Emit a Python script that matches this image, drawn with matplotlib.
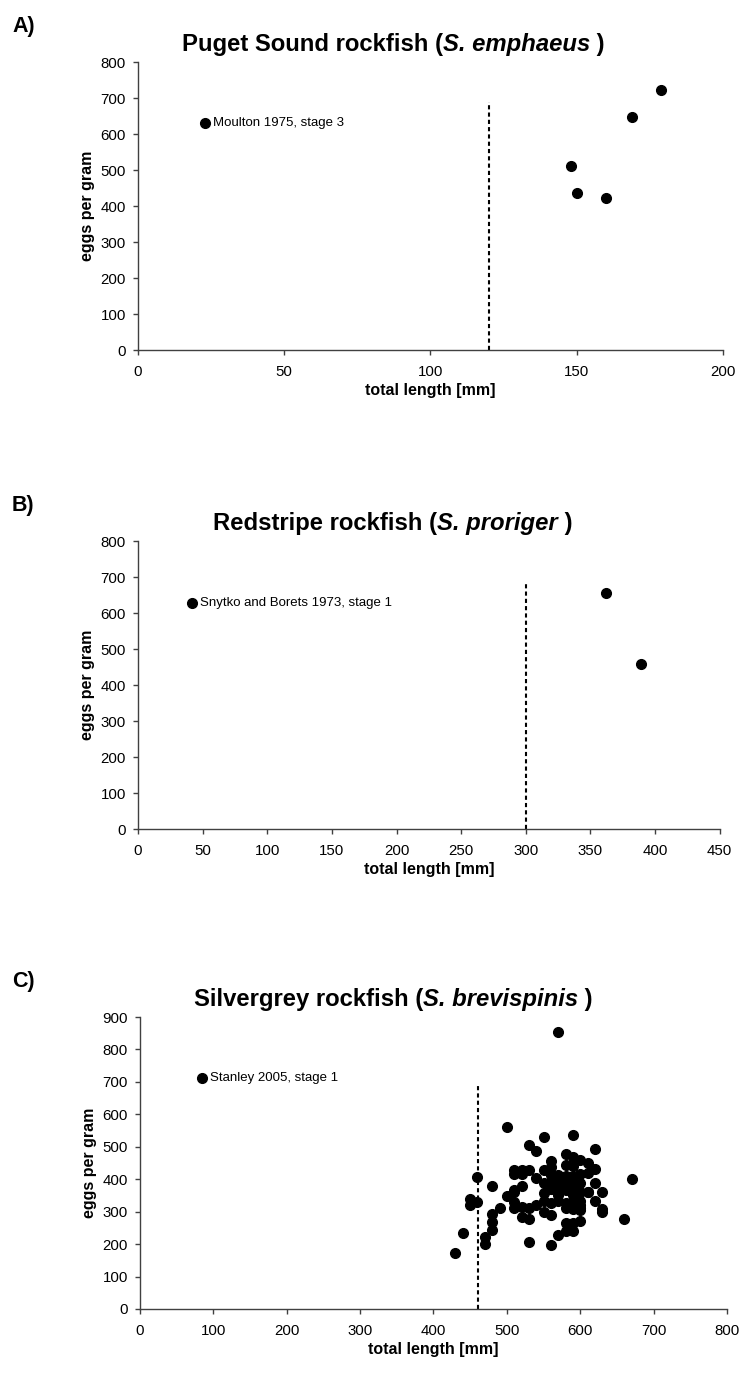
import matplotlib
matplotlib.use("Agg")
import matplotlib.pyplot as plt

plt.rcParams['font.family'] = ['Liberation Sans', 'DejaVu Sans']

# ---- Data ----
a_x = [148, 150, 160, 169, 179]
a_y = [511, 437, 421, 648, 722]
a_cut = 120
a_cut_top = 690

b_x = [362, 389]
b_y = [657, 459]
b_cut = 300
b_cut_top = 685

c_x = [570, 500, 550, 590, 530, 540, 620, 670, 460, 480,
       450, 460, 450, 440, 430, 470, 470, 480, 480, 480,
       490, 500, 530, 560, 660, 630, 630, 630, 620, 620,
       610, 610, 560, 560, 580, 590, 600, 580, 590, 550,
       510, 520, 530, 510, 520, 540, 550, 560, 570, 580,
       590, 600, 610, 560, 570, 580, 590, 600, 560, 570,
       580, 590, 600, 610, 550, 510, 510, 520, 510, 550,
       560, 570, 580, 590, 600, 580, 590, 600, 520, 530,
       540, 510, 550, 560, 520, 530, 570, 580, 590, 580,
       590, 600, 600, 600, 570, 580, 570, 590, 620]
c_y = [855, 560, 530, 537, 505, 487, 494, 401, 406, 380,
       338, 330, 321, 234, 172, 222, 200, 292, 268, 244,
       311, 347, 208, 198, 278, 360, 308, 298, 333, 431,
       450, 362, 455, 439, 478, 470, 458, 445, 440, 428,
       427, 427, 427, 417, 417, 403, 388, 412, 412, 410,
       410, 415, 418, 388, 388, 388, 388, 388, 370, 370,
       368, 370, 360, 360, 357, 368, 360, 378, 331, 333,
       327, 333, 328, 333, 333, 312, 308, 312, 315, 310,
       321, 311, 300, 290, 285, 278, 228, 239, 239, 264,
       264, 270, 321, 306, 400, 400, 350, 350, 388]
c_cut = 461
c_cut_top = 691

panels = [
    dict(tag="A)", pre="Puget Sound rockfish (", it="S. emphaeus", post=" )",
         x=a_x, y=a_y, cut=a_cut, cut_top=a_cut_top, xlim=200, xstep=50,
         ylim=800, leg="Moulton 1975, stage 3", leg_xy=(23, 632),
         pos=[0.186, 0.7456, 0.788, 0.2093]),
    dict(tag="B)", pre="Redstripe rockfish (", it="S. proriger", post=" )",
         x=b_x, y=b_y, cut=b_cut, cut_top=b_cut_top, xlim=450, xstep=50,
         ylim=800, leg="Snytko and Borets 1973, stage 1", leg_xy=(42, 627),
         pos=[0.186, 0.3973, 0.784, 0.2095]),
    dict(tag="C)", pre="Silvergrey rockfish (", it="S. brevispinis", post=" )",
         x=c_x, y=c_y, cut=c_cut, cut_top=c_cut_top, xlim=800, xstep=100,
         ylim=900, leg="Stanley 2005, stage 1", leg_xy=(85, 712),
         pos=[0.1887, 0.0487, 0.791, 0.2122]),
]

FW, FH = 742.0, 1376.0
fig = plt.figure(figsize=(7.42, 13.76), dpi=100)
title_parts = []
for p in panels:
    ax = fig.add_axes(p["pos"])
    ax.plot(p["x"], p["y"], 'o', color='black', markersize=7, linestyle='none')
    ax.plot([p["cut"], p["cut"]], [0, p["cut_top"]], color='black', lw=1.5,
            linestyle=(0, (2, 1.5)))
    ax.set_xlim(0, p["xlim"])
    ax.set_ylim(0, p["ylim"])
    ax.set_xticks(range(0, p["xlim"] + 1, p["xstep"]))
    ax.set_yticks(range(0, p["ylim"] + 1, 100))
    for s in ['top', 'right']:
        ax.spines[s].set_visible(False)
    for s in ['left', 'bottom']:
        ax.spines[s].set_color('#404040')
        ax.spines[s].set_linewidth(1.0)
    ax.tick_params(direction='out', length=3.6, width=1, colors='#404040',
                   labelsize=10.8, labelcolor='black')
    ax.tick_params(axis='y', pad=5)
    ax.tick_params(axis='x', pad=7)
    ax.set_xlabel("total length [mm]", fontsize=11.5, fontweight='bold', labelpad=3)
    ax.set_ylabel("eggs per gram", fontsize=11.5, fontweight='bold', labelpad=4)
    # legend-like entry
    lx, ly = p["leg_xy"]
    ax.plot([lx], [ly], 'o', color='black', markersize=7)
    ax.annotate(p["leg"], xy=(lx, ly), xytext=(5.5, 0), textcoords='offset points',
                va='center', ha='left', fontsize=9.5)
    # panel tag
    bb = p["pos"]
    top = bb[1] + bb[3]
    fig.text(12 / FW, top + 30 / FH, p["tag"], fontsize=15.5, fontweight='bold',
             ha='left', va='baseline')
    # title in pieces
    ty = top + 11 / FH
    t1 = fig.text(0, ty, p["pre"], fontsize=17, fontweight='bold', ha='left', va='baseline')
    t2 = fig.text(0, ty, p["it"], fontsize=17, fontweight='bold', style='italic',
                  ha='left', va='baseline')
    t3 = fig.text(0, ty, p["post"], fontsize=17, fontweight='bold', ha='left', va='baseline')
    title_parts.append((t1, t2, t3))

# fit title size so that panel A title is ~423 px wide, centred at x ~393 px
fig.canvas.draw()
r = fig.canvas.get_renderer()
wA = sum(t.get_window_extent(r).width for t in title_parts[0])
fs = 17 * 423.0 / wA
for parts in title_parts:
    for t in parts:
        t.set_fontsize(fs)
fig.canvas.draw()
for t1, t2, t3 in title_parts:
    w1 = t1.get_window_extent(r).width
    w2 = t2.get_window_extent(r).width
    w3 = t3.get_window_extent(r).width
    x0 = 393.0 - (w1 + w2 + w3) / 2
    t1.set_x(x0 / FW)
    t2.set_x((x0 + w1) / FW)
    t3.set_x((x0 + w1 + w2) / FW)

fig.savefig("out.png", dpi=100)
